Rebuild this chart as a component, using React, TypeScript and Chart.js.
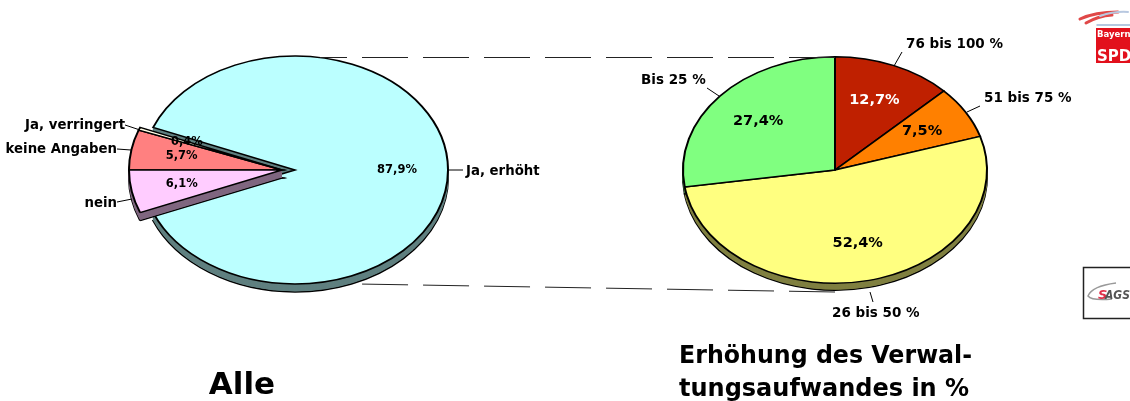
import React, { useEffect, useRef } from "react";
import { Chart, registerables } from "chart.js";

Chart.register(...registerables);

const allCategories = ["keine Angaben", "Ja, verringert", "Ja, erhöht", "nein"];
const allValues = [5.7, 0.4, 87.9, 6.1];
const raiseCategories = ["76 bis 100 %", "51 bis 75 %", "26 bis 50 %", "Bis 25 %"];
const raiseValues = [12.7, 7.5, 52.4, 27.4];
const titleAll = ["Alle"];
const titleRaise = ["Erhöhung des Verwal-", "tungsaufwandes in %"];

const allColors = ["#FF8080", "#FFFFE8", "#BBFFFF", "#FFCCFF"];
const allWalls = ["#804040", "#808066", "#5F8080", "#806680"];
const raiseColors = ["#BF2000", "#FF8000", "#FFFF80", "#80FF80"];
const raiseWalls = ["#601000", "#804000", "#808040", "#408040"];
const raiseLabelColors = ["#FFFFFF", "#000000", "#000000", "#000000"];
const allLabelColors = ["#000000", "#000000", "#000000", "#000000"];

const FONT = '"DejaVu Sans"';
const SQUASH = 0.745;

type Leader = { from: number[]; to: number[]; text: number[]; align: CanvasTextAlign };

const allLeaders: Leader[] = [
  { from: [117, 149], to: [131, 150], text: [117, 150], align: "right" },
  { from: [125, 125], to: [140, 130], text: [125, 126], align: "right" },
  { from: [449, 170], to: [463, 170], text: [466, 171.5], align: "left" },
  { from: [117, 202], to: [132, 199], text: [117, 204], align: "right" },
];
const raiseLeaders: Leader[] = [
  { from: [902, 52], to: [894, 66], text: [906, 44], align: "left" },
  { from: [980, 106], to: [967, 112], text: [984, 98], align: "left" },
  { from: [870, 292], to: [873, 302], text: [832, 313], align: "left" },
  { from: [707, 88], to: [719, 96], text: [641, 80], align: "left" },
];

function piePlugin(cfg: {
  walls: string[];
  labelColors: string[];
  categories: string[];
  values: number[];
  leaders: Leader[];
  depth: number;
  explode: number[];
  explodeX: number;
  labelSize: number;
  textSize: number;
  extra: (ctx: CanvasRenderingContext2D) => void;
}) {
  const shift = (i: number) => (cfg.explode.includes(i) ? cfg.explodeX : 0);
  return {
    id: "ellipsePie",
    beforeDatasetDraw(chart: any) {
      const ctx: CanvasRenderingContext2D = chart.ctx;
      const arcs = chart.getDatasetMeta(0).data;
      const paint = (arc: any, i: number, dy: number, opts: any) => {
        const cy = arc.y;
        ctx.save();
        ctx.translate(shift(i), cy + dy);
        ctx.scale(1, SQUASH);
        ctx.translate(0, -cy);
        const saved = arc.options;
        if (opts) arc.options = { ...saved, ...opts };
        arc.draw(ctx);
        arc.options = saved;
        ctx.restore();
      };
      const indices: number[] = arcs.map((_: any, i: number) => i);
      const stay = indices.filter((i) => shift(i) === 0);
      const moved = indices.filter((i) => shift(i) !== 0);
      [stay, moved].forEach((group) => {
        group.forEach((i) => {
          const arc = arcs[i];
          paint(arc, i, cfg.depth, { backgroundColor: cfg.walls[i], borderColor: "#000000", borderWidth: 2 });
          for (let d = cfg.depth - 1; d > 0; d--) {
            paint(arc, i, d, { backgroundColor: cfg.walls[i], borderColor: cfg.walls[i], borderWidth: 1 });
          }
        });
        group.forEach((i) => paint(arcs[i], i, 0, null));
      });
      return false;
    },
    afterDraw(chart: any) {
      const ctx: CanvasRenderingContext2D = chart.ctx;
      const arcs = chart.getDatasetMeta(0).data;
      ctx.save();
      ctx.textBaseline = "middle";
      arcs.forEach((arc: any, i: number) => {
        const mid = (arc.startAngle + arc.endAngle) / 2;
        const r = arc.outerRadius * 0.667;
        const x = arc.x + shift(i) + Math.cos(mid) * r;
        const y = arc.y + Math.sin(mid) * r * SQUASH;
        ctx.font = `bold ${cfg.labelSize}px ${FONT}`;
        ctx.fillStyle = cfg.labelColors[i];
        ctx.textAlign = "center";
        ctx.fillText(cfg.values[i].toFixed(1).replace(".", ",") + "%", x, y);
      });
      cfg.leaders.forEach((l, i) => {
        ctx.strokeStyle = "#000000";
        ctx.lineWidth = 1;
        ctx.beginPath();
        ctx.moveTo(l.from[0], l.from[1]);
        ctx.lineTo(l.to[0], l.to[1]);
        ctx.stroke();
        ctx.font = `bold ${cfg.textSize}px ${FONT}`;
        ctx.fillStyle = "#000000";
        ctx.textAlign = l.align;
        ctx.fillText(cfg.categories[i], l.text[0], l.text[1]);
      });
      cfg.extra(ctx);
      ctx.restore();
    },
  };
}

function drawAllExtras(ctx: CanvasRenderingContext2D) {
  ctx.fillStyle = "#000000";
  ctx.textAlign = "center";
  ctx.textBaseline = "alphabetic";
  ctx.font = `bold 31px ${FONT}`;
  ctx.fillText(titleAll[0], 242, 394);
}

function drawRaiseExtras(ctx: CanvasRenderingContext2D) {
  ctx.fillStyle = "#000000";
  ctx.textAlign = "left";
  ctx.textBaseline = "alphabetic";
  ctx.font = `bold 24px ${FONT}`;
  ctx.fillText(titleRaise[0], 679, 363, 293);
  ctx.fillText(titleRaise[1], 679, 396, 291);

  ctx.strokeStyle = "#222222";
  ctx.lineWidth = 1;
  ctx.setLineDash([46, 15]);
  ctx.lineDashOffset = 0;
  ctx.beginPath();
  ctx.moveTo(835, 57.5);
  ctx.lineTo(320, 57.5);
  ctx.moveTo(835, 292);
  ctx.lineTo(358, 284);
  ctx.stroke();
  ctx.setLineDash([]);

  // SPD Bayern logo
  ctx.lineCap = "round";
  ctx.lineWidth = 3;
  ctx.strokeStyle = "#E04848";
  ctx.beginPath();
  ctx.moveTo(1080, 19);
  ctx.quadraticCurveTo(1095, 12, 1118, 12);
  ctx.stroke();
  ctx.beginPath();
  ctx.moveTo(1086, 23);
  ctx.quadraticCurveTo(1098, 16, 1112, 15);
  ctx.stroke();
  ctx.strokeStyle = "#B8C8E0";
  ctx.lineWidth = 2;
  ctx.beginPath();
  ctx.moveTo(1100, 16);
  ctx.quadraticCurveTo(1115, 11, 1128, 12);
  ctx.stroke();
  ctx.strokeStyle = "#9DB6D6";
  ctx.lineWidth = 1.5;
  ctx.beginPath();
  ctx.moveTo(1097, 25);
  ctx.lineTo(1130, 25);
  ctx.stroke();
  ctx.lineCap = "butt";
  ctx.fillStyle = "#E2101C";
  ctx.fillRect(1096, 28, 34, 35);
  ctx.fillStyle = "#FFFFFF";
  ctx.font = `bold 8.5px ${FONT}`;
  ctx.fillText("Bayern", 1097, 37);
  ctx.font = `bold 15px ${FONT}`;
  ctx.fillText("SPD", 1097, 61);

  // SAGS logo
  ctx.strokeStyle = "#222222";
  ctx.lineWidth = 1.5;
  ctx.strokeRect(1083.5, 267.5, 60, 51);
  ctx.strokeStyle = "#999999";
  ctx.lineWidth = 1.5;
  ctx.beginPath();
  ctx.moveTo(1116, 283);
  ctx.quadraticCurveTo(1092, 286, 1088, 296);
  ctx.quadraticCurveTo(1092, 301, 1112, 299);
  ctx.stroke();
  ctx.font = `italic bold 13px ${FONT}`;
  ctx.fillStyle = "#E0304A";
  ctx.fillText("S", 1098, 299);
  ctx.fillStyle = "#555555";
  ctx.font = `italic bold 12px ${FONT}`;
  ctx.fillText("AGS", 1105, 299, 25);
}

function makeConfig(
  categories: string[],
  values: number[],
  colors: string[],
  rotation: number,
  radius: number,
  padding: any,
  plugin: any
): any {
  return {
    type: "pie",
    data: {
      labels: categories,
      datasets: [
        {
          data: values,
          backgroundColor: colors,
          borderColor: "#000000",
          borderWidth: 2,
          borderJoinStyle: "miter",
        },
      ],
    },
    options: {
      responsive: false,
      animation: false,
      rotation,
      radius,
      layout: { padding },
      plugins: { legend: { display: false }, tooltip: { enabled: false } },
    },
    plugins: [plugin],
  };
}

const canvasStyle: React.CSSProperties = { position: "absolute", left: 0, top: 0 };

export default function App() {
  const leftRef = useRef<HTMLCanvasElement>(null);
  const rightRef = useRef<HTMLCanvasElement>(null);
  useEffect(() => {
    const left = new Chart(
      leftRef.current!,
      makeConfig(
        allCategories,
        allValues,
        allColors,
        270,
        153,
        { left: 0, right: 540, top: 0, bottom: 61 },
        piePlugin({
          walls: allWalls,
          labelColors: allLabelColors,
          categories: allCategories,
          values: allValues,
          leaders: allLeaders,
          depth: 8,
          explode: [0, 1, 3],
          explodeX: -13,
          labelSize: 11.5,
          textSize: 13.3,
          extra: drawAllExtras,
        })
      )
    );
    const right = new Chart(
      rightRef.current!,
      makeConfig(
        raiseCategories,
        raiseValues,
        raiseColors,
        0,
        152,
        { left: 540, right: 0, top: 0, bottom: 61 },
        piePlugin({
          walls: raiseWalls,
          labelColors: raiseLabelColors,
          categories: raiseCategories,
          values: raiseValues,
          leaders: raiseLeaders,
          depth: 7,
          explode: [],
          explodeX: 0,
          labelSize: 14.5,
          textSize: 13.5,
          extra: drawRaiseExtras,
        })
      )
    );
    return () => {
      left.destroy();
      right.destroy();
    };
  }, []);
  return (
    <div style={{ position: "absolute", left: 0, top: 0, width: 1130, height: 401, overflow: "hidden", background: "#FFFFFF" }}>
      <canvas ref={leftRef} width={1130} height={401} style={canvasStyle} />
      <canvas ref={rightRef} width={1130} height={401} style={canvasStyle} />
    </div>
  );
}
